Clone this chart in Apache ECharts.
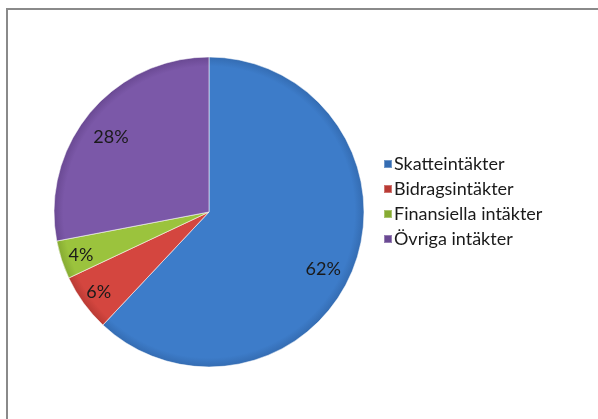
<!DOCTYPE html>
<html>
<head>
<meta charset="utf-8">
<script src="https://cdn.jsdelivr.net/npm/echarts@6/dist/echarts.min.js"></script>
<style>
  html, body { margin: 0; padding: 0; background: #fff; }
  #main { width: 598px; height: 419px; }
</style>
</head>
<body>
<div id="main"></div>
<script>
const categories = ['Skatteintäkter', 'Bidragsintäkter', 'Finansiella intäkter', 'Övriga intäkter']
const shares = [62, 6, 4, 28]
const colors = ['#3d7cc9', '#d4463f', '#9bc33d', '#7b58a8']
const rimColors = ['#346cb2', '#b93a34', '#86ab32', '#6a4993']
// small nudges so labels sit where Excel's "best fit" put them
const labelNudge = [[-9, 8], [-3, 2], [-2, 2], [4, 10]]

const cx = 209, cy = 212, r = 155

const chart = echarts.init(document.getElementById('main'), null, { renderer: 'canvas' })

const pieData = categories.map((name, i) => ({
  name: name,
  value: shares[i],
  itemStyle: {
    color: new echarts.graphic.RadialGradient(cx, cy, r, [
      { offset: 0, color: colors[i] },
      { offset: 0.94, color: colors[i] },
      { offset: 1, color: rimColors[i] }
    ], true)
  }
}))

const option = {
  backgroundColor: '#ffffff',
  color: colors,
  textStyle: { fontFamily: 'Lato, "Open Sans", sans-serif' },
  graphic: [{
    type: 'rect',
    shape: { x: 7, y: 9, width: 596, height: 440 },
    style: { fill: null, stroke: '#8a8a8a', lineWidth: 2 },
    z: 100
  }],
  legend: {
    orient: 'vertical',
    left: 378,
    top: 150,
    itemWidth: 8,
    itemHeight: 8,
    itemGap: 7,
    icon: 'rect',
    textStyle: { fontSize: 18, color: '#1a1a1a', padding: [0, 0, 0, -3] },
    data: categories
  },
  series: [{
    type: 'pie',
    center: [cx, cy],
    radius: [0, r],
    startAngle: 90,
    clockwise: true,
    silent: true,
    label: { show: false },
    labelLine: { show: false },
    itemStyle: {
      borderColor: 'rgba(255,255,255,0.3)',
      borderWidth: 1
    },
    data: pieData
  }, {
    // label ring: transparent slices that place percentages near the rim
    type: 'pie',
    center: [cx, cy],
    radius: [104, r],
    startAngle: 90,
    clockwise: true,
    silent: true,
    itemStyle: { color: 'rgba(0,0,0,0)' },
    label: {
      show: true,
      position: 'inside',
      formatter: '{d}%',
      fontSize: 18,
      color: '#1a1a1a'
    },
    labelLine: { show: false },
    labelLayout: function (params) {
      const n = labelNudge[params.dataIndex]
      return { dx: n[0], dy: n[1] }
    },
    data: categories.map((name, i) => ({ name: name, value: shares[i] }))
  }]
}

chart.setOption(option)
</script>
</body>
</html>
